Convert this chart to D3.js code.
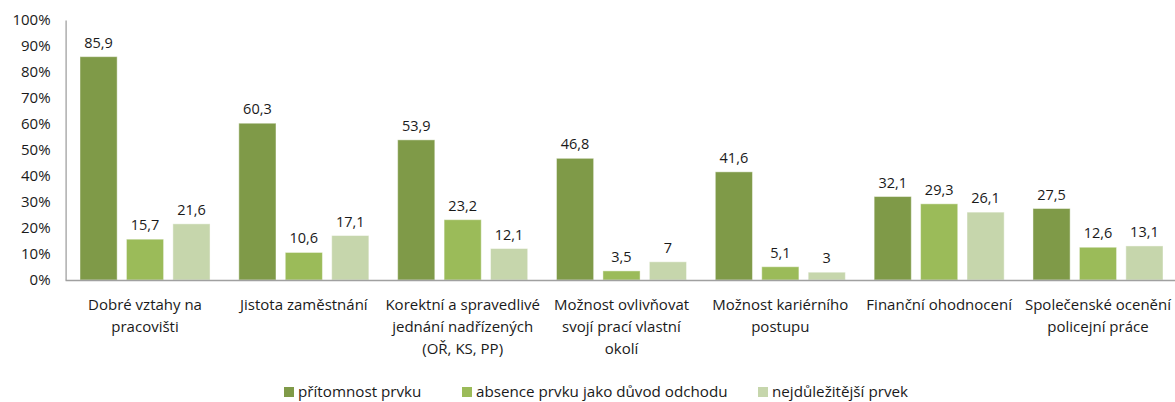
<!DOCTYPE html>
<html>
<head>
<meta charset="utf-8">
<script src="https://cdn.jsdelivr.net/npm/d3@7"></script>
<style>
  html, body { margin: 0; padding: 0; background: #fff; }
  svg { display: block; }
  text { font-family: "Open Sans", Lato, sans-serif; fill: #1a1a1a; }
</style>
</head>
<body>
<svg id="chart" width="1175" height="402"></svg>
<script>
const categories = [
  ["Dobré vztahy na", "pracovišti"],
  ["Jistota zaměstnání"],
  ["Korektní a spravedlivé", "jednání nadřízených", "(OŘ, KS, PP)"],
  ["Možnost ovlivňovat", "svojí prací vlastní", "okolí"],
  ["Možnost kariérního", "postupu"],
  ["Finanční ohodnocení"],
  ["Společenské ocenění", "policejní práce"]
];
const seriesNames = ["přítomnost prvku", "absence prvku jako důvod odchodu", "nejdůležitější prvek"];
const presence = [85.9, 60.3, 53.9, 46.8, 41.6, 32.1, 27.5];
const absence = [15.7, 10.6, 23.2, 3.5, 5.1, 29.3, 12.6];
const mostImportant = [21.6, 17.1, 12.1, 7, 3, 26.1, 13.1];
const yTicks = [0, 10, 20, 30, 40, 50, 60, 70, 80, 90, 100];
const colors = ["#7f9a48", "#9bbb59", "#c6d6ac"];

const seriesValues = [presence, absence, mostImportant];
const svg = d3.select("#chart");
const FS = "14.5px";
const FS_CAT = "15px";

const plotLeft = 65.6, plotRight = 1177.4, plotTop = 20, plotBottom = 280;
const x0 = d3.scaleBand().domain(d3.range(categories.length)).range([plotLeft, plotRight]).padding(0);
const x1 = d3.scaleBand().domain(d3.range(seriesNames.length))
  .range([14.4, x0.bandwidth() - 14.4]).paddingInner(0.2).paddingOuter(0);
const y = d3.scaleLinear().domain([0, 100]).range([plotBottom, plotTop]);

// Y axis
const yAxis = d3.axisLeft(y).tickValues(yTicks).tickSize(0).tickPadding(15).tickFormat(d => d + "%");
const yg = svg.append("g").attr("transform", `translate(${plotLeft},0)`).call(yAxis);
yg.select(".domain").attr("stroke", "#a0a0a0").attr("stroke-width", 1.3);
yg.selectAll("text").style("font-size", "15px").attr("fill", "#1a1a1a").style("font-family", "'Open Sans', sans-serif");

// Bars
const groups = svg.append("g").selectAll("g").data(categories).join("g")
  .attr("transform", (d, i) => `translate(${x0(i)},0)`);

groups.each(function(c, ci) {
  const g = d3.select(this);
  seriesValues.forEach((vals, si) => {
    const v = vals[ci];
    g.append("rect")
      .attr("x", x1(si))
      .attr("y", y(v))
      .attr("width", x1.bandwidth())
      .attr("height", y(0) - y(v))
      .attr("fill", colors[si])
      .attr("stroke", "rgba(255,255,255,0.45)")
      .attr("stroke-width", 1);
    g.append("text")
      .attr("x", x1(si) + x1.bandwidth() / 2)
      .attr("y", y(v) - 9)
      .attr("text-anchor", "middle")
      .style("font-size", FS)
      .text(String(v).replace(".", ","));
  });
});

// X axis line
svg.append("line")
  .attr("x1", plotLeft).attr("x2", plotRight)
  .attr("y1", y(0) + 0.5).attr("y2", y(0) + 0.5)
  .attr("stroke", "#a0a0a0").attr("stroke-width", 1.3);

// Category labels
groups.each(function(lines, ci) {
  const t = d3.select(this).append("text")
    .attr("x", x0.bandwidth() / 2)
    .attr("y", 310)
    .attr("text-anchor", "middle")
    .style("font-size", FS_CAT);
  lines.forEach((ln, li) => {
    t.append("tspan").attr("x", x0.bandwidth() / 2).attr("dy", li === 0 ? 0 : 22).text(ln);
  });
});

// Legend
const legendX = [284, 462, 758];
const lg = svg.append("g");
seriesNames.forEach((name, i) => {
  lg.append("rect").attr("x", legendX[i]).attr("y", 387).attr("width", 10).attr("height", 10).attr("fill", colors[i]);
  lg.append("text").attr("x", legendX[i] + 14).attr("y", 397).style("font-size", "15.2px").text(name);
});
</script>
</body>
</html>
